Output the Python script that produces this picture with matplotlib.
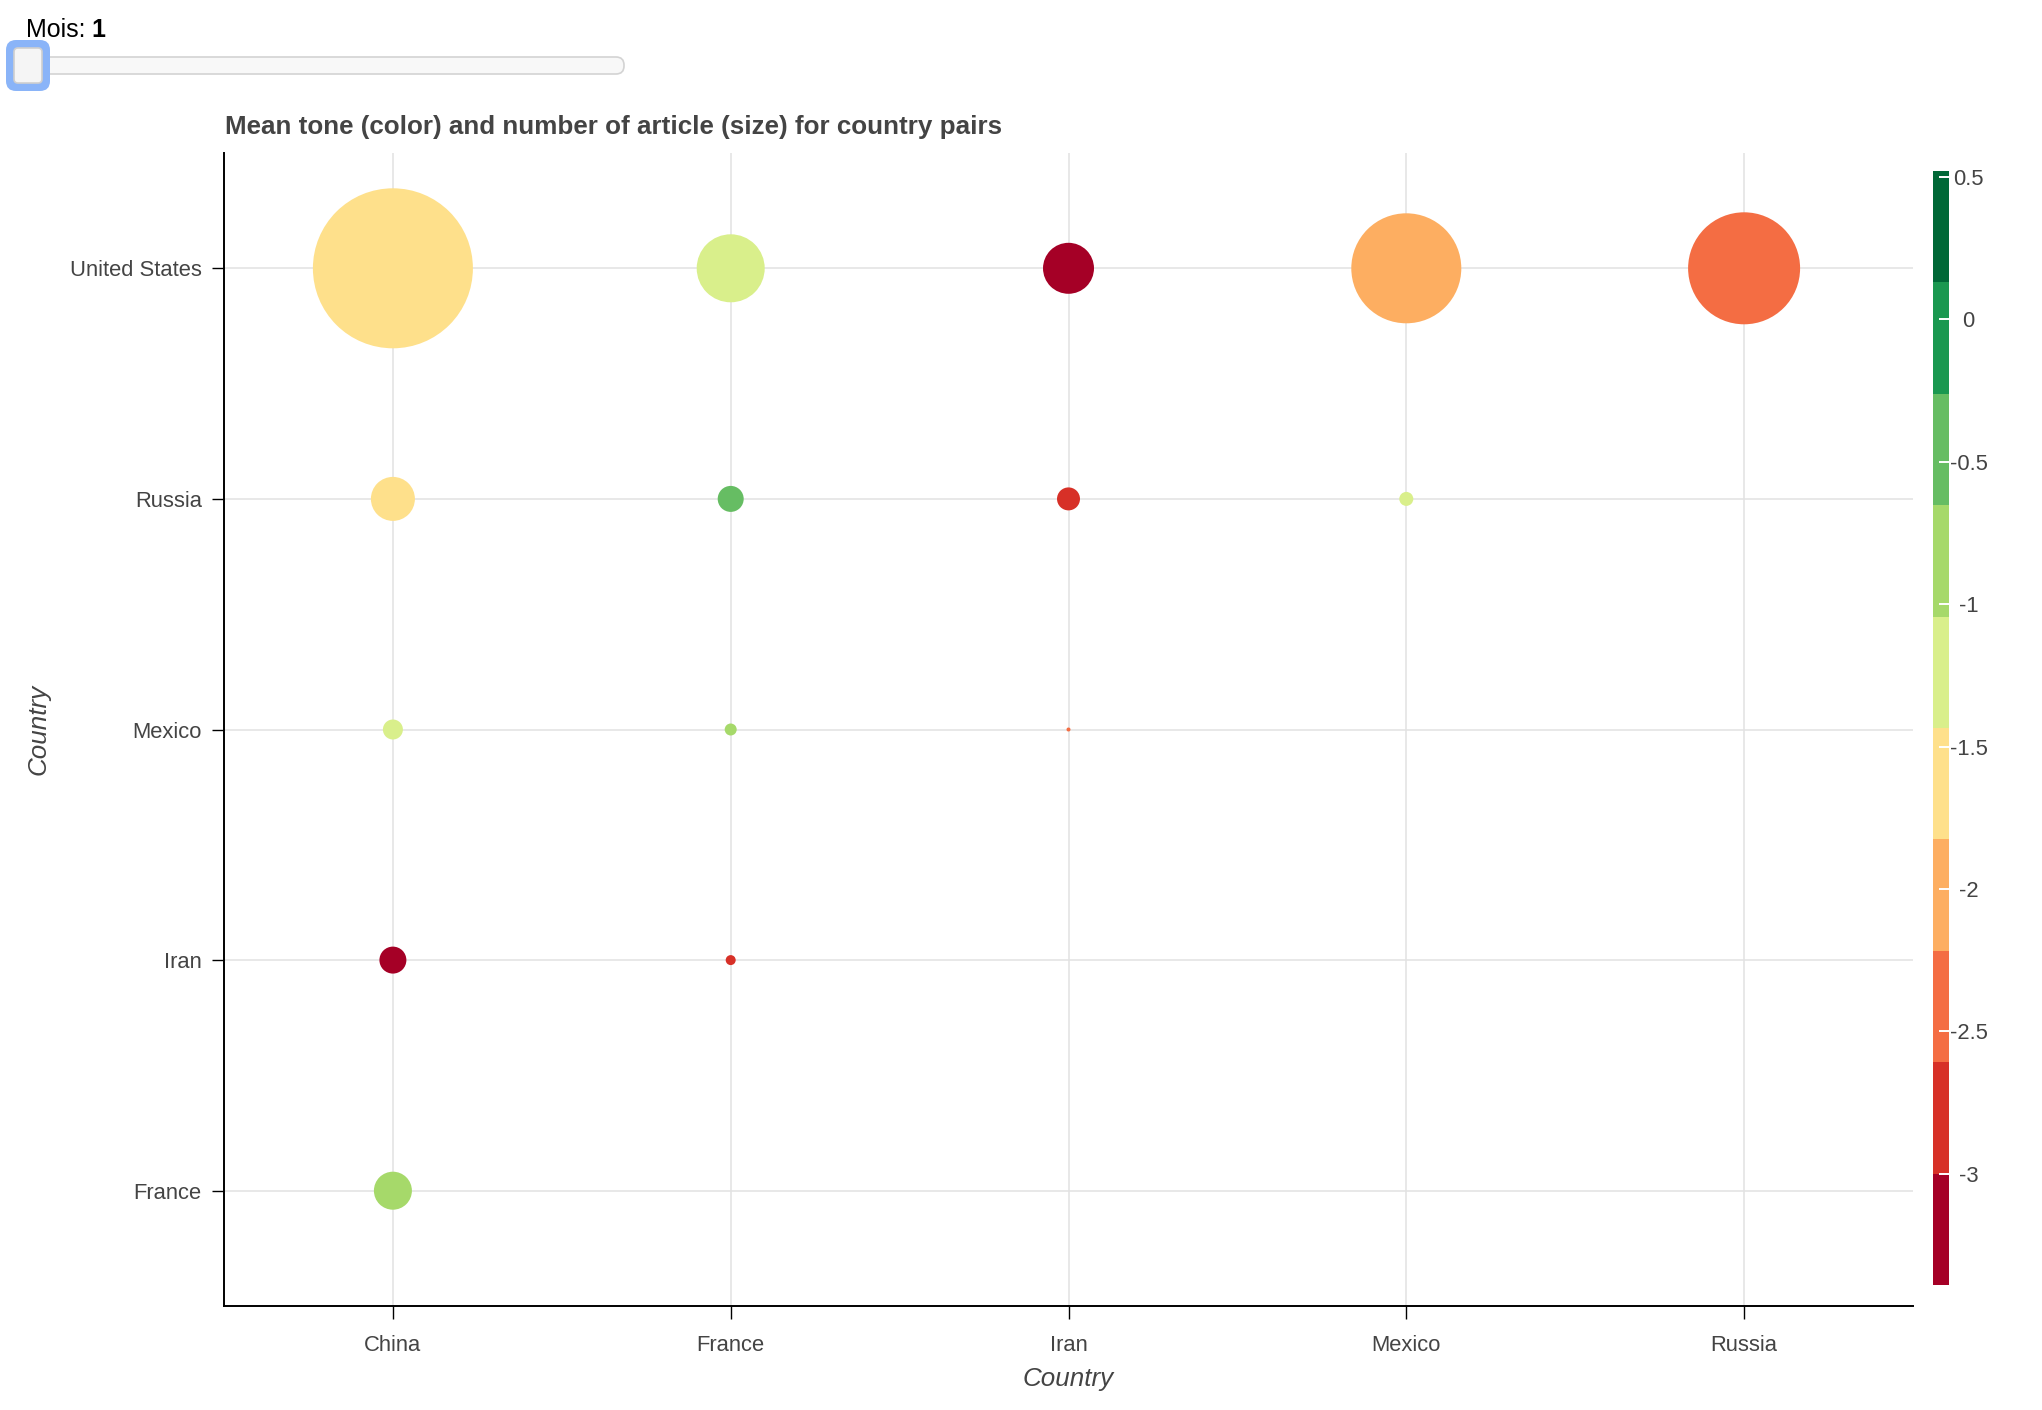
import numpy as np
import matplotlib
matplotlib.use('Agg')
from matplotlib import pyplot as plt
from matplotlib.colors import ListedColormap, BoundaryNorm
from matplotlib.patches import FancyBboxPatch

plt.rcParams['font.family'] = ['Liberation Sans', 'DejaVu Sans']

# categories on each axis
x_countries = ['China', 'France', 'Iran', 'Mexico', 'Russia']
y_countries = ['France', 'Iran', 'Mexico', 'Russia', 'United States']

# one record per country pair (month 1)
pair_x = ['China', 'France', 'Iran', 'Mexico', 'Russia',
          'China', 'France', 'Iran', 'Mexico',
          'China', 'France', 'Iran',
          'China', 'France',
          'China']
pair_y = ['United States'] * 5 + ['Russia'] * 4 + ['Mexico'] * 3 + ['Iran'] * 2 + ['France']
mean_tone = [-1.60, -1.20, -3.20, -2.00, -2.40,
             -1.65, -0.50, -2.80, -1.30,
             -1.25, -0.90, -2.40,
             -3.30, -2.80,
             -0.85]
n_articles = [6400, 1156, 650, 3025, 3136,
              484, 169, 132, 49,
              100, 36, 4,
              182, 25,
              361]

tone_low, tone_high = -3.39, 0.52
cbar_ticks = [0.5, 0, -0.5, -1, -1.5, -2, -2.5, -3]
palette = ['#a50026', '#d73027', '#f46d43', '#fdae61', '#fee08b',
           '#d9ef8b', '#a6d96a', '#66bd63', '#1a9850', '#006837']

W, H, DPI = 2042, 1410, 100
fig = plt.figure(figsize=(W / DPI, H / DPI), dpi=DPI)

# slider widget drawn in pixel coords
deco = fig.add_axes([0, 0, 1, 1])
deco.set_xlim(0, W)
deco.set_ylim(H, 0)
deco.axis('off')
deco.add_patch(FancyBboxPatch((38, 57), 586, 17, boxstyle='round,pad=0,rounding_size=8',
                              fc='#f8f8f8', ec='#d3d3d3', lw=1.2))
deco.add_patch(FancyBboxPatch((6, 40), 44, 51, boxstyle='round,pad=0,rounding_size=10',
                              fc='#8ab4f8', ec='none'))
deco.add_patch(FancyBboxPatch((14, 48), 28, 35, boxstyle='round,pad=0,rounding_size=4',
                              fc='#f5f5f5', ec='#cfcfcf', lw=1.2))
deco.text(26, 37, 'Mois:', fontsize=18, color='black', va='baseline', ha='left')
deco.text(91, 37, '1', fontsize=18, color='black', fontweight='bold', va='baseline', ha='left')

ax = fig.add_axes([224 / W, 1 - 1306 / H, 1689 / W, 1153 / H])
cmap = ListedColormap(palette)
norm = BoundaryNorm(np.linspace(tone_low, tone_high, len(palette) + 1), cmap.N)

xi = [x_countries.index(c) for c in pair_x]
yi = [y_countries.index(c) for c in pair_y]
diam_px = 2 * np.sqrt(np.array(n_articles, dtype=float))
sizes = (diam_px * 72 / DPI) ** 2
ax.scatter(xi, yi, s=sizes, c=mean_tone, cmap=cmap, norm=norm, linewidths=0, zorder=3)

ax.set_xlim(-0.5, len(x_countries) - 0.5)
ax.set_ylim(-0.5, len(y_countries) - 0.5)
ax.set_xticks(range(len(x_countries)))
ax.set_xticklabels(x_countries)
ax.set_yticks(range(len(y_countries)))
ax.set_yticklabels(y_countries)
ax.grid(True, color='#e2e2e2', lw=1.1, zorder=0)
ax.set_axisbelow(True)
for side in ['top', 'right']:
    ax.spines[side].set_visible(False)
for side in ['left', 'bottom']:
    ax.spines[side].set_linewidth(1.4)
    ax.spines[side].set_color('black')
ax.tick_params(axis='both', labelsize=15.8, labelcolor='#444444', length=9, width=1.0,
               direction='out', color='black')
ax.tick_params(axis='x', pad=12)
ax.tick_params(axis='y', pad=7)

ax.set_xlabel('Country', fontsize=18.7, style='italic', color='#444444', va='center')
ax.set_ylabel('Country', fontsize=18.7, style='italic', color='#444444', va='center')
ax.xaxis.set_label_coords(0.5, (1306 - 1379) / 1153)
ax.yaxis.set_label_coords((39 - 224) / 1689, 0.5)

fig.text(225 / W, 1 - 127 / H, 'Mean tone (color) and number of article (size) for country pairs',
         fontsize=18.7, fontweight='bold', color='#444444', va='center', ha='left')

# colour bar
cax = fig.add_axes([1933 / W, 1 - 1285 / H, 16 / W, (1285 - 171) / H])
sm = plt.cm.ScalarMappable(cmap=cmap, norm=norm)
cb = fig.colorbar(sm, cax=cax, ticks=cbar_ticks)
cb.outline.set_visible(False)
cb.minorticks_off()
cb.set_ticklabels(['0.5', '0', '-0.5', '-1', '-1.5', '-2', '-2.5', '-3'])
cax.tick_params(which='minor', length=0)
cax.tick_params(which='major', direction='in', color='white', length=7, width=1.4,
                labelsize=15.8, labelcolor='#444444', pad=14)
for lab in cax.get_yticklabels():
    lab.set_ha('center')

fig.savefig('out.png', dpi=DPI)
